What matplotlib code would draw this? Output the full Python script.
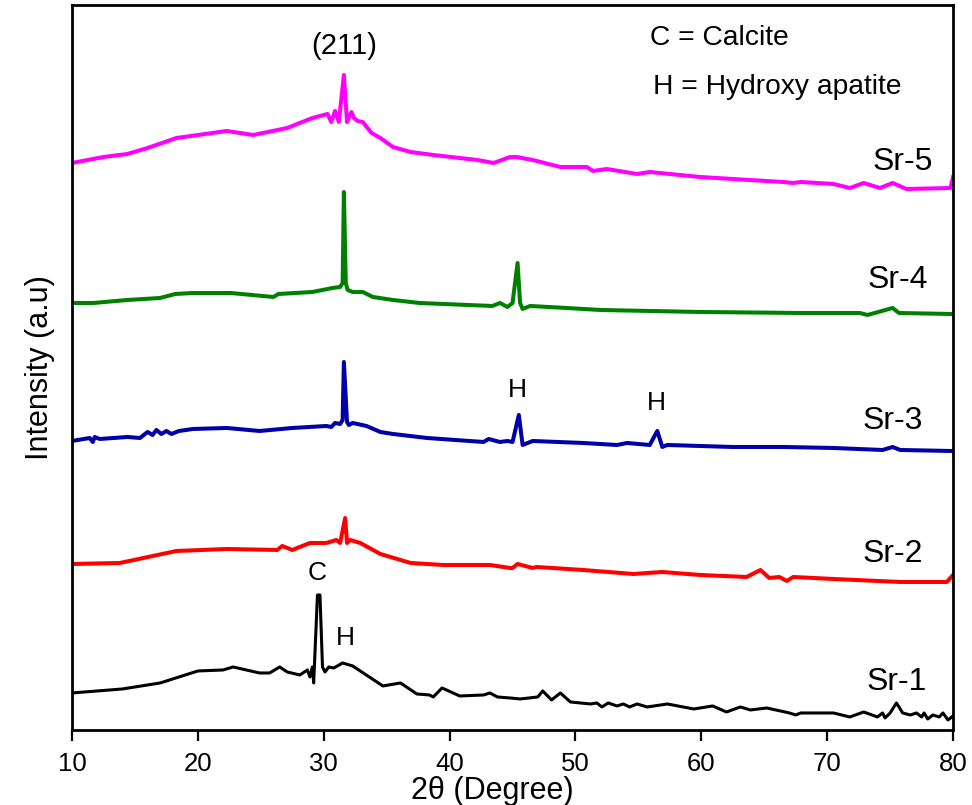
import matplotlib
matplotlib.use("Agg")
import matplotlib.pyplot as plt

plt.rcParams['font.family'] = ['Liberation Sans', 'DejaVu Sans']

# Two-theta (deg) and intensity (a.u., offset-stacked)
sr5_x = [10.0, 12.5, 14.4, 16.0, 18.3, 22.3, 24.4, 27.1, 29.1, 30.3, 30.6, 30.9, 31.2, 31.6, 31.85, 32.2, 32.4, 32.7, 33.1, 33.8, 34.5, 35.5, 36.9, 38.7, 42.2, 43.5, 44.8, 45.3, 46.6, 48.8, 50.9, 51.4, 52.5, 54.9, 55.9, 59.9, 62.5, 66.5, 67.3, 67.9, 70.5, 71.8, 72.9, 74.2, 75.2, 76.3, 79.8, 80.0]
sr5_y = [567, 573, 576, 582, 592, 599, 595, 602, 612, 616, 608, 619, 608, 655, 608, 618, 612, 609, 608, 597, 592, 583, 578, 575, 570, 567, 573, 573, 570, 563, 563, 559, 561, 556, 558, 553, 551, 548, 547, 548, 546, 542, 547, 542, 547, 541, 542, 553]

sr4_x = [10.0, 11.7, 14.4, 17.0, 18.2, 19.6, 22.6, 26.0, 26.4, 29.1, 30.7, 31.3, 31.5, 31.6, 31.75, 31.9, 32.3, 33.1, 33.9, 35.5, 37.6, 43.4, 44.0, 44.6, 45.0, 45.4, 45.6, 45.8, 46.4, 49.3, 52.0, 59.9, 67.8, 72.6, 73.2, 75.2, 75.7, 79.8, 80.0]
sr4_y = [427, 427, 430, 432, 436, 437, 437, 433, 436, 438, 442, 443, 447, 538, 447, 440, 438, 438, 433, 430, 427, 424, 427, 423, 427, 467, 427, 421, 424, 422, 420, 418, 417, 417, 415, 422, 417, 416, 416]

sr3_x = [10.0, 11.4, 11.65, 11.8, 12.2, 14.4, 15.4, 16.0, 16.4, 16.7, 17.1, 17.5, 17.9, 18.5, 19.6, 22.3, 24.9, 27.5, 30.2, 30.6, 30.9, 31.3, 31.5, 31.6, 31.85, 32.0, 32.3, 33.4, 34.5, 35.5, 38.2, 42.7, 43.1, 44.0, 44.6, 45.0, 45.5, 45.8, 46.6, 50.6, 53.3, 54.1, 55.9, 56.5, 56.9, 57.3, 62.5, 66.5, 70.5, 74.4, 75.2, 75.8, 79.8, 80.0]
sr3_y = [289, 292, 288, 293, 291, 293, 292, 298, 295, 300, 296, 299, 296, 299, 301, 302, 299, 302, 304, 303, 307, 306, 310, 368, 308, 305, 307, 304, 298, 296, 292, 288, 291, 288, 289, 288, 315, 285, 289, 287, 285, 287, 285, 299, 283, 285, 283, 283, 282, 280, 283, 280, 279, 279]

sr2_x = [10.0, 13.8, 18.3, 22.3, 26.3, 26.7, 27.5, 28.9, 30.2, 31.0, 31.3, 31.7, 31.85, 32.1, 32.9, 34.5, 36.9, 39.5, 43.2, 44.8, 45.0, 45.4, 46.6, 46.9, 50.6, 54.6, 56.9, 59.9, 63.6, 64.7, 65.4, 66.2, 66.8, 67.3, 70.5, 75.8, 79.5, 80.0]
sr2_y = [166, 167, 179, 181, 180, 184, 180, 187, 187, 190, 187, 212, 187, 190, 187, 176, 167, 165, 165, 162, 162, 166, 162, 163, 160, 156, 158, 155, 153, 160, 152, 153, 149, 153, 151, 148, 148, 155]

sr1_x = [10.0, 14.0, 17.0, 20.0, 22.0, 22.8, 24.9, 25.7, 26.5, 27.1, 28.1, 28.7, 28.9, 29.1, 29.2, 29.5, 29.7, 29.9, 30.1, 30.4, 30.8, 31.5, 32.3, 34.7, 36.1, 37.4, 38.4, 38.7, 39.4, 40.8, 42.7, 43.2, 43.8, 44.8, 45.6, 47.0, 47.4, 48.1, 48.8, 49.6, 51.2, 51.7, 52.1, 52.6, 53.3, 53.8, 54.3, 54.9, 55.7, 57.3, 59.4, 60.9, 62.0, 63.1, 63.9, 65.2, 67.0, 67.5, 67.9, 70.5, 71.8, 72.9, 74.0, 74.4, 74.6, 75.0, 75.5, 76.0, 76.6, 77.1, 77.5, 77.7, 77.99, 78.4, 78.9, 79.2, 79.6, 80.0]
sr1_y = [37, 41, 47, 59, 60, 63, 57, 57, 63, 58, 55, 60, 53, 63, 47, 135, 135, 63, 58, 63, 62, 67, 64, 44, 47, 36, 35, 33, 42, 34, 35, 37, 33, 32, 31, 33, 39, 30, 37, 28, 26, 27, 23, 27, 24, 26, 23, 26, 23, 26, 21, 24, 18, 23, 20, 22, 17, 15, 17, 17, 13, 18, 13, 17, 12, 17, 27, 17, 15, 17, 13, 17, 11, 15, 13, 17, 10, 14]

series = [
    (sr1_x, sr1_y, '#000000', 2.2),
    (sr2_x, sr2_y, '#ff0000', 2.9),
    (sr3_x, sr3_y, '#0000a8', 2.9),
    (sr4_x, sr4_y, '#008000', 2.9),
    (sr5_x, sr5_y, '#ff00ff', 2.9),
]

sample_labels = ['Sr-1', 'Sr-2', 'Sr-3', 'Sr-4', 'Sr-5']
sample_label_pos = [(73.1, 48), (72.8, 176), (72.8, 309), (73.2, 450), (73.6, 568)]

peak_labels = ['(211)', 'H', 'H', 'C', 'H']
peak_label_pos = [(31.6, 684), (45.4, 340), (56.4, 327), (29.5, 157), (31.7, 92)]

legend_lines = ['C = Calcite', 'H = Hydroxy apatite']
legend_pos = [(55.9, 692), (56.2, 643)]

xticks = [10, 20, 30, 40, 50, 60, 70, 80]

fig = plt.figure(figsize=(9.72, 8.05), dpi=100)
ax = fig.add_axes([0.0741, 0.0932, 0.9064, 0.9006])

for x, y, c, lw in series:
    ax.plot(x, y, color=c, lw=lw, solid_joinstyle='round')

ax.set_xlim(10, 80)
ax.set_ylim(0, 725)
ax.set_xticks(xticks)
ax.set_yticks([])
ax.tick_params(axis='x', direction='out', length=8, width=1.6, labelsize=18.5, pad=8)
for s in ax.spines.values():
    s.set_linewidth(2.0)

for t, (px, py) in zip(sample_labels, sample_label_pos):
    ax.text(px, py, t, fontsize=23, ha='left', va='center')
for t, (px, py) in zip(peak_labels, peak_label_pos):
    ax.text(px, py, t, fontsize=19 if t != '(211)' else 21, ha='center', va='center')
for t, (px, py) in zip(legend_lines, legend_pos):
    ax.text(px, py, t, fontsize=20.3, ha='left', va='center')

ax.set_xlabel('2θ (Degree)', fontsize=22)
ax.xaxis.set_label_coords(0.477, -0.063)
ax.set_ylabel('Intensity (a.u)', fontsize=22, labelpad=12)

fig.savefig('out.png', dpi=100)
